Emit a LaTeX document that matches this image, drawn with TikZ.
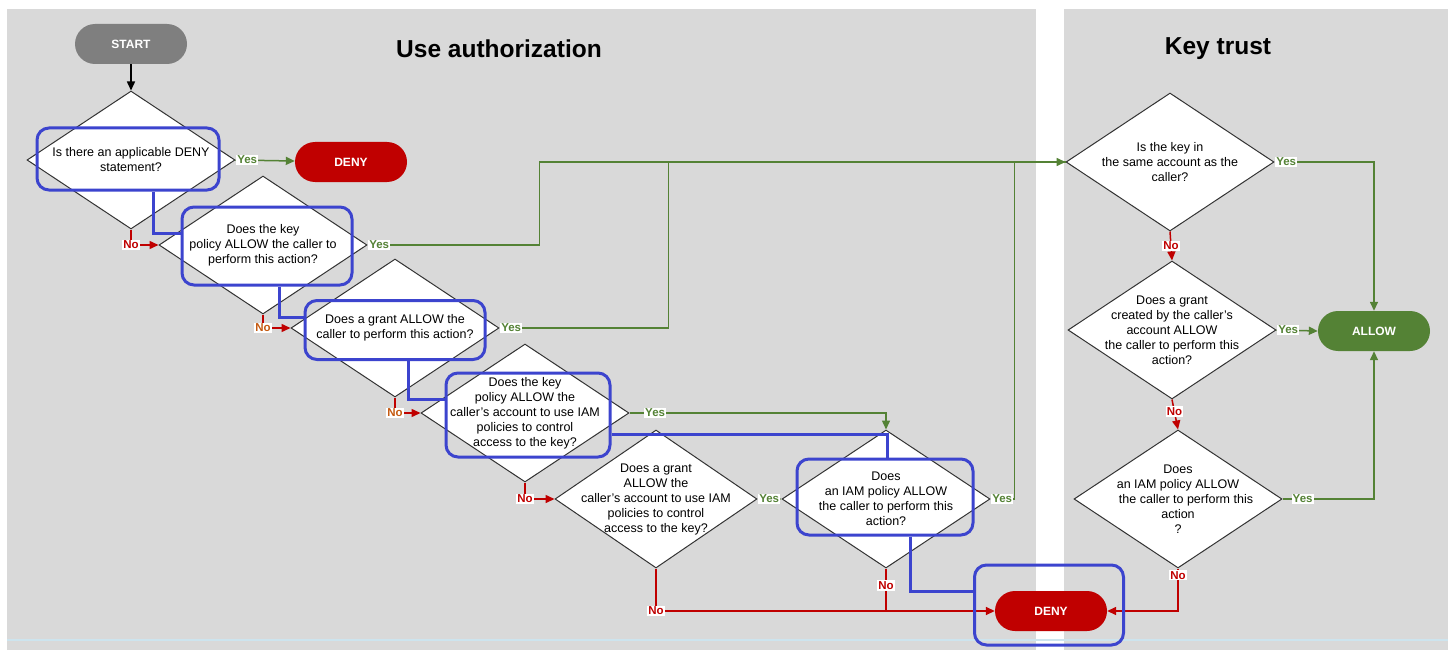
\documentclass[tikz,border=0pt]{standalone}
\usepackage{fontspec}
\setmainfont{Liberation Sans}
\usepackage{tikz}
\usetikzlibrary{arrows.meta}
\usetikzlibrary{shapes.geometric}
\usetikzlibrary{positioning}

\definecolor{panelgray}{RGB}{217,217,217}
\definecolor{yesgreen}{RGB}{84,130,53}
\definecolor{nored}{RGB}{192,0,0}
\definecolor{noorange}{RGB}{197,90,17}
\definecolor{startgray}{RGB}{127,127,127}
\definecolor{markblue}{RGB}{60,68,206}
\definecolor{rulecyan}{RGB}{205,228,238}

\begin{document}
\begin{tikzpicture}[x=1pt,y=-1pt,>={Triangle[length=9pt,width=8pt]},
    decision node/.style={diamond,draw=black!80,line width=1pt,fill=white,align=center,inner sep=-30pt,
      minimum width=208pt,minimum height=138pt,font=\fontsize{12.5}{15}\selectfont},
    end node/.style={rectangle,rounded corners=20pt,minimum width=112pt,minimum height=40pt,
      text=white,font=\fontsize{12}{14}\selectfont\bfseries},
    yes label/.style={fill=white,text=yesgreen,inner sep=1pt,font=\fontsize{11.5}{13}\selectfont\bfseries},
    no label/.style={fill=white,text=nored,inner sep=1pt,font=\fontsize{11.5}{13}\selectfont\bfseries},
    yes line/.style={draw=yesgreen,line width=1.5pt},
    no line/.style={draw=nored,line width=1.5pt},
    mark box/.style={rectangle,draw=markblue,line width=3pt,rounded corners=12pt},
    mark line/.style={draw=markblue,line width=3pt},
    title/.style={font=\fontsize{24.5}{28}\selectfont\bfseries}]
  \useasboundingbox (0,0) rectangle (1448,650);
  % panels
  \fill[white] (0,0) rectangle (1448,650);
  \fill[panelgray] (7,9) rectangle (1036,650);
  \fill[panelgray] (1064,9) rectangle (1448,650);
  \draw[rulecyan,line width=1.5pt] (7,640) -- (1448,640);
  \node[title] (usetitle) at (499,49) {Use authorization};
  \node[title] (keytitle) at (1218,49) {Key trust};

  % use authorization
  \node[end node,fill=startgray] (start) at (131,44) {START};
  \node[decision node] (d1) at (131,160) {Is there an applicable DENY\\statement?};
  \node[end node,fill=nored] (deny1) at (351,162) {DENY};
  \node[decision node] (d2) at (263,245) {Does the key\\policy ALLOW the caller to\\perform this action?};
  \node[decision node] (d3) at (395,328) {Does a grant ALLOW the\\caller to perform this action?};
  \node[decision node] (d4) at (525,413) {Does the key\\policy ALLOW the\\caller’s account to use IAM\\policies to control\\access to the key?};
  \node[decision node,minimum width=202pt] (d5) at (656,499) {Does a grant\\ALLOW the\\caller’s account to use IAM\\policies to control\\access to the key?};
  \node[decision node] (d6) at (886,499) {Does\\an IAM policy ALLOW\\the caller to perform this\\action?};
  \node[end node,fill=nored] (deny2) at (1051,611) {DENY};

  % key trust
  \node[decision node] (r1) at (1170,162) {Is the key in\\the same account as the\\caller?};
  \node[decision node] (r2) at (1172,330) {Does a grant\\created by the caller’s\\account ALLOW\\the caller to perform this\\action?};
  \node[decision node] (r3) at (1178,499) {Does\\an IAM policy ALLOW\hspace{8pt}\\\hspace{16pt}the caller to perform this\\action\\?};
  \node[end node,fill=yesgreen] (allow) at (1374,331) {ALLOW};

  \draw[->,line width=1.5pt] (start) -- (d1);
  \draw[yes line,->] (d1.east) -- node[yes label,pos=0,anchor=west] {Yes} (deny1);
  \draw[no line,->] (d1.south) |- node[no label] {No} (d2.west);
  \draw[yes line,->] (d2.east) -- node[yes label,pos=0,anchor=west] {Yes} ++(172,0) |- (r1.west);
  \draw[no line,->] (d2.south) |- node[no label,text=noorange] {No} (d3.west);
  \draw[yes line] (d3.east) -- node[yes label,pos=0,anchor=west] {Yes} ++(169,0) |- (r1.west);
  \draw[no line,->] (d3.south) |- node[no label,text=noorange] {No} (d4.west);
  \draw[yes line,->] (d4.east) -| node[yes label,pos=0.05] {Yes} (d6.north);
  \draw[no line,->] (d4.south) |- node[no label] {No} (d5.west);
  \draw[yes line,->] (d5.east) -- node[yes label,pos=0,anchor=west] {Yes} (d6.west);
  \draw[no line,->] (d5.south) |- node[no label] {No} (deny2.west);
  \draw[yes line] (d6.east) -- node[yes label,pos=0,anchor=west] {Yes} ++(24,0) |- (r1.west);
  \draw[no line] (d6.south) -- node[no label,pos=0.4] {No} (d6.south |- deny2.west);

  \draw[yes line,->] (r1.east) -| node[yes label,pos=0,anchor=west] {Yes} (allow.north);
  \draw[no line,->] (r1.south) -- node[no label] {No} (r2.north);
  \draw[yes line,->] (r2.east) -- node[yes label,pos=0,anchor=west] {Yes} (allow.west);
  \draw[no line,->] (r2.south) -- node[no label,pos=0.4] {No} (r3.north);
  \draw[yes line,->] (r3.east) -| node[yes label,pos=0.11] {Yes} (allow.south);
  \draw[no line,->] (r3.south) |- node[no label,pos=0.08] {No} (deny2.east);

  % highlighted path
  \node[mark box,minimum width=182pt,minimum height=62pt] (m1) at (128,159) {};
  \node[mark box,minimum width=170pt,minimum height=78pt] (m2) at (267,246) {};
  \node[mark box,minimum width=180pt,minimum height=59pt] (m3) at (395,330) {};
  \node[mark box,minimum width=164pt,minimum height=84pt] (m4) at (528,415) {};
  \node[mark box,minimum width=176pt,minimum height=76pt] (m5) at (885,497) {};
  \node[mark box,minimum width=149pt,minimum height=80pt] (m6) at (1049,605) {};
  \draw[mark line] ([xshift=25pt]m1.south) |- ([yshift=13pt]m2.west);
  \draw[mark line] ([xshift=12pt]m2.south) |- ([yshift=13pt]m3.west);
  \draw[mark line] ([xshift=13pt]m3.south) |- ([yshift=16pt]m4.west);
  \draw[mark line] ([yshift=-19pt]m4.east) -| ([xshift=2pt]m5.north);
  \draw[mark line] ([xshift=25pt]m5.south) |- ([yshift=14pt]m6.west);
\end{tikzpicture}
\end{document}
